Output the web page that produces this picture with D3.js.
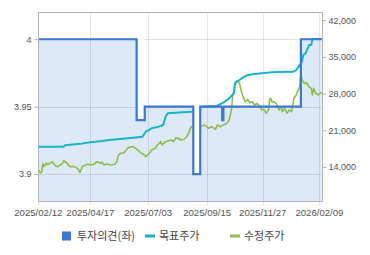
<!DOCTYPE html>
<html><head><meta charset="utf-8">
<script src="https://cdn.jsdelivr.net/npm/d3@7"></script>
<style>html,body{margin:0;padding:0;background:#fff;}svg{display:block;}</style>
</head><body>
<svg id="c" width="370" height="255"></svg>
<script>
// ---- data ----
const holidays = ["2025-03-03","2025-05-01","2025-05-05","2025-05-06","2025-06-03","2025-06-06","2025-08-15",
  "2025-10-03","2025-10-06","2025-10-07","2025-10-08","2025-10-09","2025-12-25","2025-12-31","2026-01-01"];
const firstDay = "2025-02-12", lastDay = "2026-02-11";
const xTickLabels = ["2025/02/12","2025/04/17","2025/07/03","2025/09/15","2025/11/27","2026/02/09"];
const leftTicks = [3.9, 3.95, 4];
const rightTicks = [14000, 21000, 28000, 35000, 42000];

const opinionDates = ["2025-02-12","2025-06-19","2025-06-30","2025-08-28","2025-09-05","2025-10-02","2025-10-10","2026-01-16","2026-02-11"];
const opinionValues = [4, 3.94, 3.95, 3.9, 3.95, 3.94, 3.95, 4, 4];

const targetDates = ["2025-02-12","2025-03-17","2025-03-18","2025-04-04","2025-04-17","2025-05-02","2025-05-14","2025-05-28","2025-06-16","2025-06-26",
  "2025-07-01","2025-07-08","2025-07-16","2025-07-22","2025-07-24","2025-07-28","2025-08-14","2025-08-26","2025-09-04","2025-09-05",
  "2025-09-25","2025-10-10","2025-10-15","2025-10-16","2025-10-21","2025-10-23","2025-10-24","2025-10-27","2025-10-30","2025-11-04",
  "2025-11-10","2025-11-18","2025-11-26","2025-12-08","2025-12-16","2026-01-07","2026-01-12","2026-01-15","2026-01-19","2026-01-20",
  "2026-01-22","2026-01-26","2026-01-27","2026-01-29","2026-01-30","2026-02-11"];
const targetValues = [17870,17870,18130,18400,18700,18950,19140,19330,19580,19770,
  20720,21370,21680,22000,23580,24230,24420,24530,24530,25490,
  25620,26250,26760,26900,27530,28040,29940,30250,30570,31090,
  31530,31720,31850,32040,32100,32150,32480,33430,34060,35340,
  35660,36610,37240,37240,38400,38400];

const priceDates = ["2025-02-12","2025-02-14","2025-02-17","2025-02-18","2025-02-19","2025-02-21","2025-02-24","2025-02-28","2025-03-04","2025-03-06",
  "2025-03-10","2025-03-14","2025-03-17","2025-03-20","2025-03-24","2025-03-28","2025-04-02","2025-04-04","2025-04-08","2025-04-11",
  "2025-04-15","2025-04-18","2025-04-22","2025-04-25","2025-04-30","2025-05-02","2025-05-08","2025-05-12","2025-05-16","2025-05-21",
  "2025-05-23","2025-05-26","2025-05-28","2025-06-02","2025-06-05","2025-06-10","2025-06-13","2025-06-16","2025-06-20","2025-06-25",
  "2025-06-27","2025-07-01","2025-07-04","2025-07-08","2025-07-11","2025-07-15","2025-07-18","2025-07-21","2025-07-24","2025-07-28",
  "2025-07-31","2025-08-04","2025-08-06","2025-08-08","2025-08-12","2025-08-18","2025-08-20","2025-08-22","2025-08-26","2025-08-28",
  "2025-09-01","2025-09-04","2025-09-08","2025-09-11","2025-09-16","2025-09-19","2025-09-24","2025-09-26","2025-09-30","2025-10-10",
  "2025-10-15","2025-10-17","2025-10-21","2025-10-22","2025-10-24","2025-10-28","2025-10-30","2025-10-31","2025-11-03","2025-11-05",
  "2025-11-06","2025-11-10","2025-11-12","2025-11-14","2025-11-18","2025-11-20","2025-11-25","2025-11-26","2025-11-28","2025-12-02",
  "2025-12-04","2025-12-05","2025-12-08","2025-12-09","2025-12-11","2025-12-15","2025-12-17","2025-12-19","2025-12-22","2025-12-24",
  "2025-12-29","2026-01-02","2026-01-06","2026-01-07","2026-01-08","2026-01-12","2026-01-13","2026-01-15","2026-01-16","2026-01-19",
  "2026-01-21","2026-01-23","2026-01-27","2026-01-29","2026-01-30","2026-02-02","2026-02-04","2026-02-06","2026-02-10","2026-02-11"];
const priceValues = [13430,12860,13140,14700,14060,14760,14380,15010,14700,14190,
  14060,14700,15200,14700,14060,14060,13750,12910,14060,14380,
  14510,14380,14510,15010,14700,14900,14380,14570,14380,14510,
  15010,16150,16610,16720,17240,17680,17870,17870,17240,16610,
  16420,15960,16610,17240,17560,18190,18820,18190,18820,18950,
  19140,18820,19580,19470,19140,19280,19660,20420,21680,21370,
  21050,21370,21810,22000,21370,21680,21180,22000,21680,22000,
  22320,22950,24860,27390,29620,30440,29940,28990,28040,26900,
  26440,26900,26250,26440,25810,26130,25490,24860,24990,24230,
  24860,26900,27090,26440,26440,26000,24860,25490,24530,25180,
  24230,24860,24530,25810,27090,27720,28340,29300,31720,30580,
  29940,30060,29300,28990,27720,28990,28040,27720,28150,28040];

const legendItems = [
  {name:"투자의견(좌)", color:"#3a78d4", type:"square"},
  {name:"목표주가", color:"#17b4c8", type:"line"},
  {name:"수정주가", color:"#8dbd4c", type:"line"}
];

// ---- setup ----
const parse = d3.timeParse("%Y-%m-%d");
const holidaySet = new Set(holidays);
const fmtKey = d3.timeFormat("%Y-%m-%d");
const tradingDays = d3.timeDays(parse(firstDay), d3.timeDay.offset(parse(lastDay), 1))
  .filter(d => d.getDay() !== 0 && d.getDay() !== 6 && !holidaySet.has(fmtKey(d)));
const idxOf = d => d3.bisectLeft(tradingDays, d);

const plot = {left: 38.3, right: 321.7, top: 12.3, bottom: 201};
const xIdx = d3.scaleLinear().domain([0, tradingDays.length - 1]).range([plot.left, plot.right]);
const x = d => xIdx(idxOf(d));
const yL = d3.scaleLinear().domain([3.88, 4.02]).range([plot.bottom, plot.top]);
const yR = d3.scaleLinear().domain([7500, 43500]).range([plot.bottom, plot.top]);

const opinion = opinionDates.map((d,i) => ({date: parse(d), v: opinionValues[i]}));
const target = targetDates.map((d,i) => ({date: parse(d), v: targetValues[i]}));
const price = priceDates.map((d,i) => ({date: parse(d), v: priceValues[i]}));

const svg = d3.select("#c");
const numFont = "'Liberation Sans', Arial, sans-serif";

// fill area under opinion
svg.append("path").datum(opinion)
  .attr("d", d3.area().curve(d3.curveStepAfter).x(d => x(d.date)).y0(plot.bottom).y1(d => yL(d.v)))
  .attr("fill", "#dde8f9");

// gridlines
const xTickDates = xTickLabels.map(s => d3.timeParse("%Y/%m/%d")(s));
svg.append("g").selectAll("line").data(xTickDates).join("line")
  .attr("x1", d => Math.round(x(d)) + 0.5).attr("x2", d => Math.round(x(d)) + 0.5)
  .attr("y1", plot.top).attr("y2", plot.bottom + 4)
  .attr("stroke", "rgba(0,0,0,0.1)").attr("stroke-width", 1);
svg.append("g").selectAll("line").data(leftTicks).join("line")
  .attr("x1", plot.left - 4).attr("x2", plot.right)
  .attr("y1", d => Math.round(yL(d)) + 0.5).attr("y2", d => Math.round(yL(d)) + 0.5)
  .attr("stroke", "rgba(0,0,0,0.1)").attr("stroke-width", 1);

// price line
svg.append("path").datum(price)
  .attr("d", d3.line().x(d => x(d.date)).y(d => yR(d.v)))
  .attr("fill", "none").attr("stroke", "#8dbd4c").attr("stroke-width", 1.6).attr("stroke-linejoin", "round");

// target line
svg.append("path").datum(target)
  .attr("d", d3.line().x(d => x(d.date)).y(d => yR(d.v)))
  .attr("fill", "none").attr("stroke", "#17b4c8").attr("stroke-width", 2).attr("stroke-linejoin", "round");

// white interior of opinion dips
const dips = [];
for (let i = 1; i < opinion.length - 1; i++) {
  if (opinion[i].v < opinion[i-1].v) dips.push({x0: x(opinion[i].date), x1: x(opinion[i+1].date), top: yL(opinion[i-1].v), bot: yL(opinion[i].v)});
}
svg.append("g").selectAll("rect").data(dips).join("rect")
  .attr("x", d => d.x0).attr("width", d => d.x1 - d.x0)
  .attr("y", d => d.top).attr("height", d => d.bot - d.top)
  .attr("fill", "#fff");

// opinion line
svg.append("path").datum(opinion)
  .attr("d", d3.line().curve(d3.curveStepAfter).x(d => x(d.date)).y(d => yL(d.v)))
  .attr("fill", "none").attr("stroke", "#3a78d4").attr("stroke-width", 2.2);

// border
svg.append("rect").attr("x", Math.round(plot.left) + 0.5).attr("y", Math.round(plot.top) + 0.5)
  .attr("width", Math.round(plot.right) - Math.round(plot.left)).attr("height", Math.round(plot.bottom) - Math.round(plot.top))
  .attr("fill", "none").attr("stroke", "#b4b4b4");

// left axis
const gl = svg.append("g").attr("transform", `translate(${Math.round(plot.left)+0.5},0)`)
  .call(d3.axisLeft(yL).tickValues(leftTicks).tickSize(4).tickFormat(d => String(d)));
gl.select(".domain").remove();
gl.selectAll("line").attr("stroke", "#b4b4b4");
gl.selectAll("text").attr("fill", "#555").attr("font-family", numFont).attr("font-size", 9);

// right axis
const gr = svg.append("g").attr("transform", `translate(${Math.round(plot.right)+0.5},0)`)
  .call(d3.axisRight(yR).tickValues(rightTicks).tickSize(4).tickPadding(2).tickFormat(d3.format(",")));
gr.select(".domain").remove();
gr.selectAll("line").attr("stroke", "#b4b4b4");
gr.selectAll("text").attr("fill", "#555").attr("font-family", numFont).attr("font-size", 9);

// x labels
svg.append("g").selectAll("text").data(xTickDates).join("text")
  .attr("x", d => x(d)).attr("y", 216)
  .attr("text-anchor", "middle").attr("fill", "#555")
  .attr("font-family", numFont).attr("font-size", 9.6)
  .text((d,i) => xTickLabels[i]);

// legend
const lg = svg.append("g").attr("font-family", "'Noto Sans CJK KR', sans-serif").attr("font-size", 11).attr("fill", "#444");
const legendX = [62, 145, 230];
legendItems.forEach((it, i) => {
  const g = lg.append("g").attr("transform", `translate(${legendX[i]},236)`);
  if (it.type === "square") g.append("rect").attr("x", 0).attr("y", -4.5).attr("width", 9).attr("height", 9).attr("fill", it.color);
  else g.append("line").attr("x1", 0).attr("x2", 10).attr("y1", 0).attr("y2", 0).attr("stroke", it.color).attr("stroke-width", 3);
  g.append("text").attr("x", it.type === "square" ? 15 : 14).attr("y", 4).text(it.name);
});
</script>
</body></html>
